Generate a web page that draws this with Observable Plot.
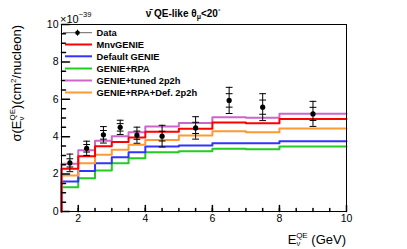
<!DOCTYPE html>
<html><head><meta charset="utf-8">
<script src="https://cdn.jsdelivr.net/npm/d3@7"></script>
<script src="https://cdn.jsdelivr.net/npm/@observablehq/plot@0.6"></script>
<style>
body{margin:0;background:#fff;}
#wrap{position:relative;width:407px;height:249px;font-family:"Liberation Sans",Arial,sans-serif;}
#wrap svg{display:block;}
#overlay{position:absolute;left:0;top:0;pointer-events:none;}
</style></head><body><div id="wrap"></div>
<script>
// ---- data ----
const binEdges = [1.5, 2, 2.5, 3, 3.5, 4, 5, 6, 7, 8, 10];
const mnvGenie     = [2.28, 2.96, 3.49, 3.72, 3.96, 4.26, 4.42, 4.76, 4.72, 4.94];
const defaultGenie = [1.60, 2.16, 2.58, 2.90, 3.17, 3.48, 3.53, 3.65, 3.65, 3.76];
const genieRpa     = [1.30, 1.78, 2.19, 2.58, 2.85, 3.17, 3.22, 3.35, 3.33, 3.48];
const tuned2p2h    = [2.55, 3.28, 3.78, 4.03, 4.24, 4.54, 4.73, 5.04, 5.01, 5.23];
const rpaDef2p2h   = [1.93, 2.58, 3.03, 3.30, 3.57, 3.83, 4.06, 4.29, 4.24, 4.44];
const dataX        = [1.75, 2.25, 2.75, 3.25, 3.75, 4.5, 5.5, 6.5, 7.5, 9];
const dataY        = [2.60, 3.38, 4.10, 4.50, 4.08, 4.03, 4.47, 5.94, 5.58, 5.22];
const dataErrTotal = [0.47, 0.38, 0.44, 0.38, 0.43, 0.58, 0.60, 0.70, 0.72, 0.67];
const dataErrStat  = [0.22, 0.20, 0.23, 0.20, 0.22, 0.26, 0.30, 0.36, 0.38, 0.35];
const xTickLabels = [2, 4, 6, 8, 10];
const yTickLabels = [0, 2, 4, 6, 8, 10];
const xMinorTicks = [2, 2.5, 3, 3.5, 4, 4.5, 5, 5.5, 6, 6.5, 7, 7.5, 8, 8.5, 9, 9.5];
const yMinorTicks = [0.5, 1, 1.5, 2.5, 3, 3.5, 4.5, 5, 5.5, 6.5, 7, 7.5, 8.5, 9, 9.5];
const seriesNames = ["MnvGENIE", "Default GENIE", "GENIE+RPA", "GENIE+tuned 2p2h", "GENIE+RPA+Def. 2p2h"];
const seriesColors = ["#ff0000", "#3333ff", "#22cc22", "#cc66cc", "#ff9933"];
const seriesValues = [mnvGenie, defaultGenie, genieRpa, tuned2p2h, rpaDef2p2h];

// ---- build tables ----
function stepRows(vals) {
  const rows = [{x: binEdges[0], y: 0}];
  vals.forEach((v, i) => rows.push({x: binEdges[i], y: v}));
  rows.push({x: binEdges[binEdges.length - 1], y: vals[vals.length - 1]});
  return rows;
}
const points = dataX.map((x, i) => ({x, y: dataY[i], et: dataErrTotal[i], es: dataErrStat[i]}));
const caps = points.flatMap(p => [p.y - p.et, p.y + p.et, p.y - p.es, p.y + p.es].map(y => ({x: p.x, y})));

const tickUp = {draw(ctx, l) { ctx.moveTo(0, 0); ctx.lineTo(0, -l); }};
const tickRight = {draw(ctx, l) { ctx.moveTo(0, 0); ctx.lineTo(l, 0); }};
const capShape = {draw(ctx, l) { ctx.moveTo(-l / 2, 0); ctx.lineTo(l / 2, 0); }};

const drawOrder = [2, 1, 4, 3, 0];
const lineMarks = drawOrder.map(k => Plot.line(stepRows(seriesValues[k]), {
  x: "x", y: "y", curve: "step-after", stroke: seriesColors[k], strokeWidth: 2
}));

const plot = Plot.plot({
  width: 407, height: 249,
  marginLeft: 61, marginRight: 61, marginTop: 24, marginBottom: 38,
  x: {domain: [1.5, 10]},
  y: {domain: [0, 10]},
  style: {fontFamily: '"Liberation Sans", Arial, sans-serif', fontSize: "10.5px", color: "#000", background: "transparent", overflow: "visible"},
  marks: [
    ...lineMarks,
    Plot.ruleX(points, {x: "x", y1: d => d.y - d.et, y2: d => d.y + d.et, stroke: "#000", strokeWidth: 1}),
    Plot.vector(caps, {x: "x", y: "y", length: 6, anchor: "start", shape: capShape, stroke: "#000", strokeWidth: 1}),
    Plot.dot(points, {x: "x", y: "y", r: 2.6, fill: "#000"}),
    Plot.vector(xMinorTicks, {x: d => d, frameAnchor: "bottom", length: 3, anchor: "start", shape: tickUp, stroke: "#000"}),
    Plot.vector(xTickLabels, {x: d => d, frameAnchor: "bottom", length: 6, anchor: "start", shape: tickUp, stroke: "#000"}),
    Plot.vector(yMinorTicks, {y: d => d, frameAnchor: "left", length: 4, anchor: "start", shape: tickRight, stroke: "#000"}),
    Plot.vector(yTickLabels, {y: d => d, frameAnchor: "left", length: 8, anchor: "start", shape: tickRight, stroke: "#000"}),
    Plot.axisX(xTickLabels, {tickSize: 0, tickPadding: 3, label: null}),
    Plot.axisY(yTickLabels, {tickSize: 0, tickPadding: 3, label: null}),
    Plot.frame({stroke: "#000", strokeWidth: 1})
  ]
});
const wrap = document.getElementById("wrap");
wrap.appendChild(plot);

// ---- overlay texts & legend ----
const NS = "http://www.w3.org/2000/svg";
const ov = document.createElementNS(NS, "svg");
ov.setAttribute("id", "overlay");
ov.setAttribute("width", 407); ov.setAttribute("height", 249);
ov.setAttribute("font-family", '"Liberation Sans", Arial, sans-serif');
let html = "";
// title
html += `<text x="183" y="17" text-anchor="middle" font-size="10" font-weight="bold">ν̄ QE-like  θ<tspan dy="2" font-size="7">μ</tspan><tspan dy="-2">&lt;20</tspan><tspan dy="-4" font-size="6">°</tspan></text>`;
// exponent
html += `<text x="60" y="23" font-size="11">×10<tspan dy="-6" font-size="7.5">−39</tspan></text>`;
// y axis title
html += `<g transform="translate(21,25) rotate(-90)"><text text-anchor="end" font-size="13">σ(E<tspan dy="3" font-size="8">ν</tspan><tspan dx="-4" dy="-9" font-size="8">QE</tspan><tspan dy="6">)(cm</tspan><tspan dy="-5" font-size="8">2</tspan><tspan dy="5">/nucleon)</tspan></text></g>`;
// x axis title
html += `<text x="346" y="244" text-anchor="end" font-size="13">E<tspan dy="2" font-size="7.5">ν</tspan><tspan dx="-4" dy="-8" font-size="8">QE</tspan><tspan dy="6"> (GeV)</tspan></text>`;
// legend
const legY = [32.7, 44.5, 56.3, 68.5, 80.5, 92.5];
html += `<line x1="63" x2="92" y1="${legY[0]}" y2="${legY[0]}" stroke="#666" stroke-width="1"/>`;
html += `<line x1="77.5" x2="77.5" y1="${legY[0]-3}" y2="${legY[0]+3}" stroke="#000" stroke-width="1"/>`;
html += `<circle cx="77.5" cy="${legY[0]}" r="2.3" fill="#000"/>`;
html += `<text x="96.5" y="${legY[0]}" dy="0.35em" font-size="9.3" font-weight="bold">Data</text>`;
seriesNames.forEach((name, i) => {
  const y = legY[i + 1];
  html += `<line x1="65" x2="92" y1="${y}" y2="${y}" stroke="${seriesColors[i]}" stroke-width="2"/>`;
  html += `<text x="96.5" y="${y}" dy="0.35em" font-size="9.3" font-weight="bold">${name}</text>`;
});
ov.innerHTML = html;
wrap.appendChild(ov);
</script></body></html>
